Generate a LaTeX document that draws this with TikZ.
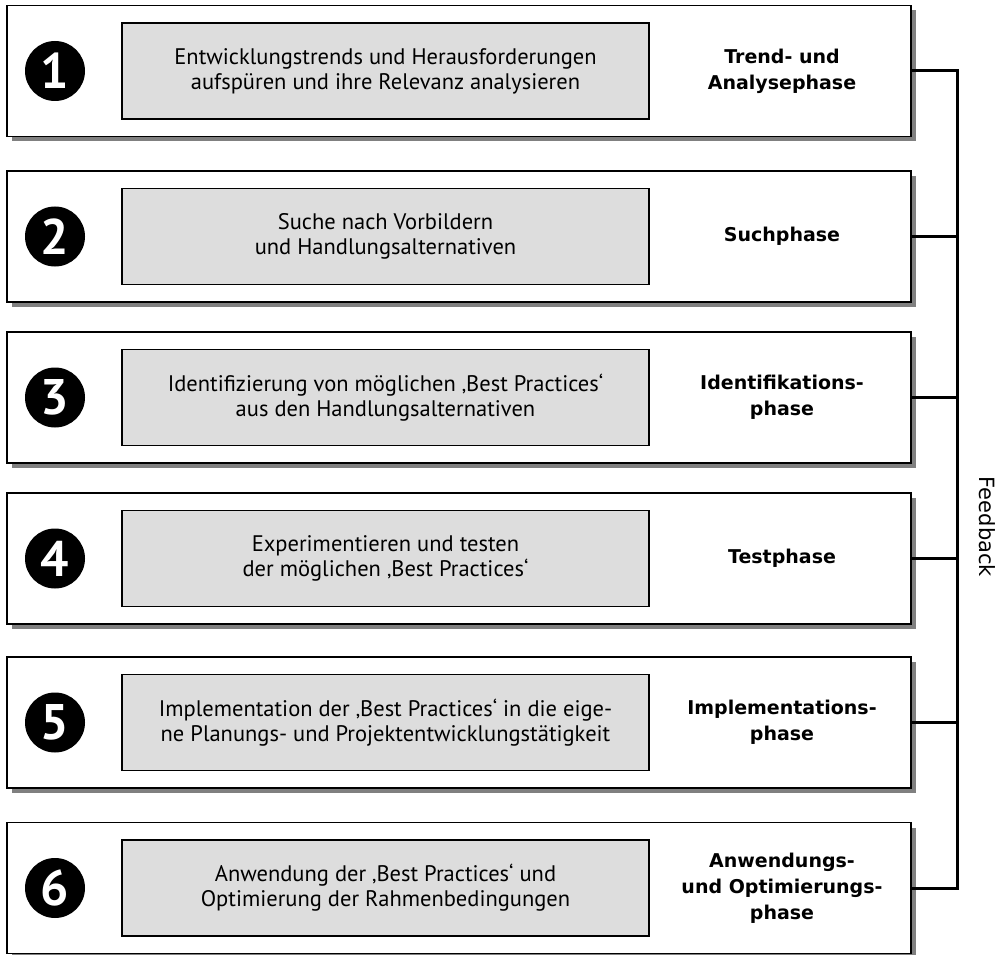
\documentclass[tikz,border=0pt]{standalone}
\usepackage{fontspec}
\setmainfont{PT Sans}
\newfontfamily\labelfont{DejaVu Sans}
\usetikzlibrary{positioning,shadows}
\definecolor{taskgray}{HTML}{DDDDDD}
\definecolor{shadowgray}{HTML}{808080}

\begin{document}
\begin{tikzpicture}[x=1pt,y=-1pt,
    phasebox/.style={draw, line width=1.6pt, fill=white, minimum width=904pt, minimum height=131pt,
      drop shadow={shadow xshift=5pt, shadow yshift=-5pt, fill=shadowgray, opacity=1}},
    taskbox/.style={draw, line width=1.2pt, fill=taskgray, minimum width=527pt, minimum height=96pt,
      align=center, font=\fontsize{22.5}{25}\selectfont},
    numdot/.style={circle, fill=black, text=white, minimum size=60pt, inner sep=0pt,
      font=\bfseries\fontsize{50}{50}\selectfont},
    phaselabel/.style={align=center, font=\labelfont\bfseries\fontsize{19}{26}\selectfont},
    feedline/.style={line width=3pt}]
    \useasboundingbox (0,0) rectangle (1002,955);

    % Draw the six phases
    \foreach \i/\yc/\task/\phase in {
      1/71/{Entwicklungstrends und Herausforderungen\\aufspüren und ihre Relevanz analysieren}/{Trend- und\\Analysephase},
      2/236.5/{Suche nach Vorbildern\\und Handlungsalternativen}/{Suchphase},
      3/397.5/{Identifizierung von möglichen ‚Best Practices‘\\aus den Handlungsalternativen}/{Identifikations-\\phase},
      4/558.5/{Experimentieren und testen\\der möglichen ‚Best Practices‘}/{Testphase},
      5/722.5/{Implementation der ‚Best Practices‘ in die eige-\\ne Planungs- und Projektentwicklungstätigkeit}/{Implementations-\\phase},
      6/888/{Anwendung der ‚Best Practices‘ und\\Optimierung der Rahmenbedingungen}/{Anwendungs-\\und Optimierungs-\\phase}} {
      \node[phasebox] (phase\i) at (459,\yc) {};
      \node[numdot] (num\i) at (55,\yc) {\i};
      \node[taskbox] (task\i) at (385.5,\yc) {\task};
      \node[phaselabel] (label\i) at (782,\yc) {\phase};
    }

    % Feedback line on the right
    \coordinate (fb) at (957,0);
    \draw[feedline] (phase1.east) -- (phase1.east -| fb) -- (phase6.east -| fb) -- (phase6.east);
    \foreach \i in {2,...,5} {
      \draw[feedline] (phase\i.east) -- (phase\i.east -| fb);
    }
    \node[rotate=-90, font=\labelfont\fontsize{21}{21}\selectfont] (fblabel) at (987,527) {Feedback};
  \end{tikzpicture}
\end{document}
